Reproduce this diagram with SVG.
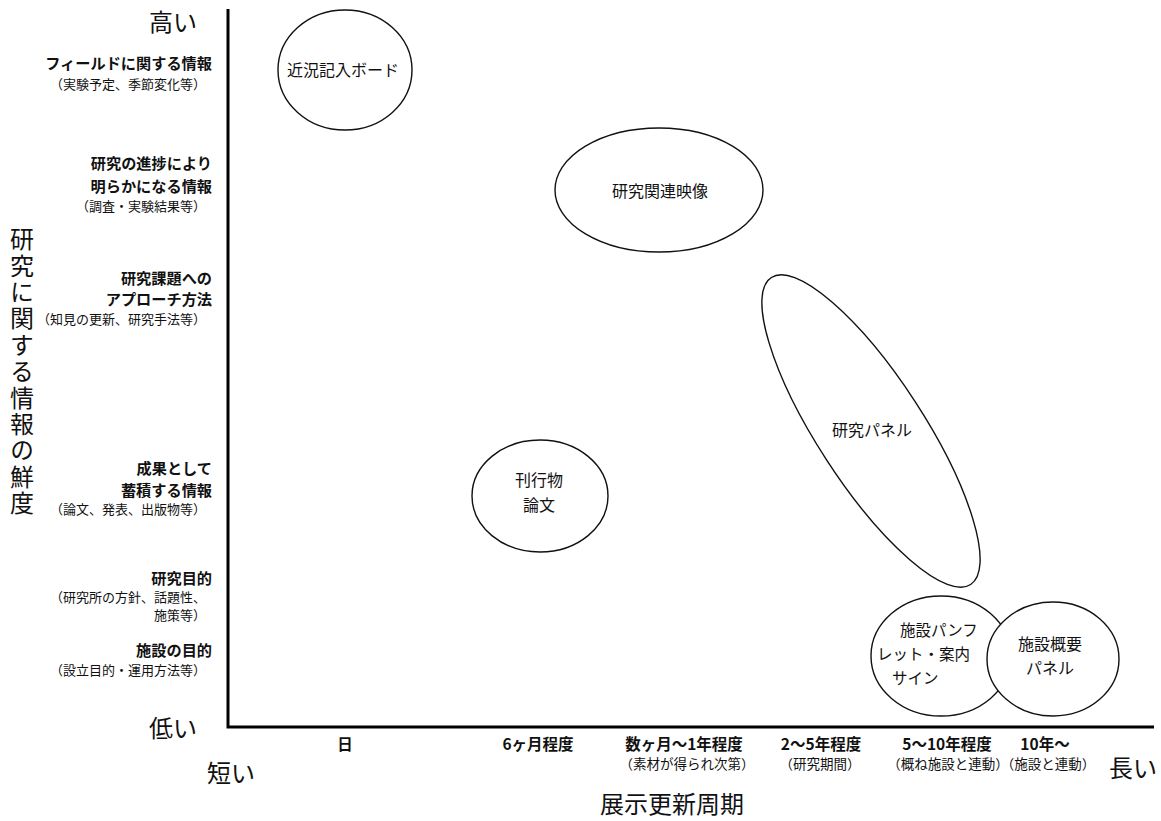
<svg xmlns="http://www.w3.org/2000/svg" width="1161" height="821" viewBox="0 0 1161 821">
<style>
text{font-family:"Noto Sans CJK JP","Noto Sans",sans-serif;fill:#111}
.big{font-size:24px}
.cat{font-size:15.2px;font-weight:700;text-anchor:end}
.sub{font-size:13px;text-anchor:end}
.xl{font-size:15.5px;font-weight:700;text-anchor:middle}
.xs{font-size:13.5px;text-anchor:middle}
.nd{fill:#fff;stroke:#111;stroke-width:1.4}
.nt{font-size:16px;text-anchor:middle}
.ns{font-size:15.5px}
.ax{stroke:#000;stroke-width:3;fill:none}
</style>
<rect width="1161" height="821" fill="#fff"/>
<g id="axes">
<path class="ax" d="M228,9 V727 H1154"/>
</g>
<g id="y-labels">
<text class="big" x="197" y="31" text-anchor="end">高い</text>
<text class="big" x="197" y="737" text-anchor="end">低い</text>
<text class="cat" x="212" y="69">フィールドに関する情報</text>
<text class="sub" x="206" y="89">（実験予定、季節変化等）</text>
<text class="cat" x="212" y="169">研究の進捗により</text>
<text class="cat" x="212" y="192">明らかになる情報</text>
<text class="sub" x="206" y="211">（調査・実験結果等）</text>
<text class="cat" x="212" y="284">研究課題への</text>
<text class="cat" x="212" y="305">アプローチ方法</text>
<text class="sub" x="206" y="324">（知見の更新、研究手法等）</text>
<text class="cat" x="212" y="474">成果として</text>
<text class="cat" x="212" y="496">蓄積する情報</text>
<text class="sub" x="206" y="514">（論文、発表、出版物等）</text>
<text class="cat" x="212" y="584">研究目的</text>
<text class="sub" x="206" y="602">（研究所の方針、話題性、</text>
<text class="sub" x="206" y="620">施策等）</text>
<text class="cat" x="212" y="656">施設の目的</text>
<text class="sub" x="206" y="675">（設立目的・運用方法等）</text>
<text class="big" x="22" y="227" style="writing-mode:vertical-rl;letter-spacing:2.4px">研究に関する情報の鮮度</text>
</g>
<g id="x-labels">
<text class="big" x="207" y="782">短い</text>
<text class="big" x="1157" y="777" text-anchor="end">長い</text>
<text class="big" x="672" y="813" text-anchor="middle">展示更新周期</text>
<text class="xl" x="345" y="750">日</text>
<text class="xl" x="538" y="750">6ヶ月程度</text>
<text class="xl" x="684" y="750">数ヶ月〜1年程度</text>
<text class="xs" x="687" y="769">（素材が得られ次第）</text>
<text class="xl" x="821" y="750">2〜5年程度</text>
<text class="xs" x="820" y="769">（研究期間）</text>
<text class="xl" x="947" y="750">5〜10年程度</text>
<text class="xs" x="948" y="769">（概ね施設と連動）</text>
<text class="xl" x="1045" y="750">10年〜</text>
<text class="xs" x="1048" y="769">（施設と連動）</text>
</g>
<g id="n-board">
<ellipse class="nd" cx="345" cy="70" rx="67" ry="60"/>
<text class="nt" x="343" y="76">近況記入ボード</text>
</g>
<g id="n-video">
<ellipse class="nd" cx="659" cy="190" rx="104" ry="62"/>
<text class="nt" x="660" y="197">研究関連映像</text>
</g>
<g id="n-panel">
<ellipse class="nd" cx="871" cy="431" rx="183" ry="53" transform="rotate(57 871 431)"/>
<text class="nt" x="872" y="436">研究パネル</text>
</g>
<g id="n-pub">
<ellipse class="nd" cx="540" cy="496" rx="68" ry="56"/>
<text class="nt" x="539" y="486">刊行物</text>
<text class="nt" x="539" y="511">論文</text>
</g>
<g id="n-pamphlet">
<ellipse class="nd" cx="941" cy="656" rx="70" ry="60"/>
<text class="ns" x="900" y="636">施設パンフ</text>
<text class="ns" x="877" y="660">レット・案内</text>
<text class="ns" x="892" y="684">サイン</text>
</g>
<g id="n-overview">
<ellipse class="nd" cx="1053" cy="659" rx="66" ry="57"/>
<text class="nt" x="1050" y="650">施設概要</text>
<text class="nt" x="1050" y="674">パネル</text>
</g>
</svg>
